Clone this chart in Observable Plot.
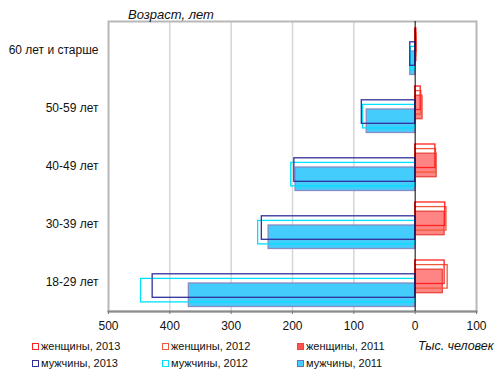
<!DOCTYPE html>
<html>
<head>
<meta charset="utf-8">
<script src="https://cdn.jsdelivr.net/npm/d3@7"></script>
<script src="https://cdn.jsdelivr.net/npm/@observablehq/plot@0.6"></script>
<style>
  html, body { margin: 0; padding: 0; background: #fff; }
  #wrap { position: relative; width: 500px; height: 378px; font-family: "Liberation Sans", Arial, sans-serif; color: #111; }
  .abs { position: absolute; white-space: nowrap; line-height: 1; }
  .mk { position: absolute; width: 5px; height: 5px; border: 1.5px solid; background: #fff; }
</style>
</head>
<body>
<div id="wrap"></div>
<script>
const ages = ["60 лет и старше", "50-59 лет", "40-49 лет", "30-39 лет", "18-29 лет"];
const women2013 = [2, 9, 33, 49, 48];
const women2012 = [2, 10, 34, 51, 53];
const women2011 = [2, 12, 35, 48, 45];
const men2013 = [8, 87, 197, 250, 428];
const men2012 = [7, 85, 202, 256, 447];
const men2011 = [8, 79, 195, 239, 369];
const xTicks = [-500, -400, -300, -200, -100, 0, 100];
const gridTicks = [-400, -300, -200, -100];
const legendLabels = [
  ["женщины, 2013", "женщины, 2012", "женщины, 2011"],
  ["мужчины, 2013", "мужчины, 2012", "мужчины, 2011"]
];

const rows = (vals, sign) => ages.map((a, i) => ({age: a, v: sign * vals[i]}));

// band height 58px; 6 overlapping series stepping 4.6px, each ~23.5px tall
const BAND = 58, H = 23.5;
const ins = k => ({insetTop: 7 + 4.6 * k, insetBottom: BAND - 7 - 4.6 * k - H});

const series = [
  {data: women2011, sign: 1, k: 2, fill: "#ff8584", stroke: "#e8483c"},
  {data: women2012, sign: 1, k: 1, fill: "none", stroke: "#f0583a"},
  {data: women2013, sign: 1, k: 0, fill: "none", stroke: "#ff2020"},
  {data: men2011, sign: -1, k: 5, fill: "#44ccfc", stroke: "#8a8cc4"},
  {data: men2012, sign: -1, k: 4, fill: "none", stroke: "#00e0ff"},
  {data: men2013, sign: -1, k: 3, fill: "none", stroke: "#30309c"}
];

const chart = Plot.plot({
  width: 500,
  height: 335,
  marginLeft: 108,
  marginRight: 24,
  marginTop: 21,
  marginBottom: 24,
  style: {fontFamily: "'Liberation Sans', Arial, sans-serif", fontSize: "12px", color: "#111", background: "#fff"},
  x: {domain: [-500, 100], label: null},
  y: {domain: ages, padding: 0, label: null},
  marks: [
    Plot.ruleX(gridTicks, {stroke: "#d6d6d6", strokeWidth: 1.5}),
    ...series.map(s => Plot.barX(rows(s.data, s.sign), {
      x: "v", y: "age", fill: s.fill, stroke: s.stroke, strokeWidth: 1.3, ...ins(s.k)
    })),
    Plot.frame({stroke: "#b8b8b8", strokeWidth: 2}),
    Plot.frame({anchor: "bottom", stroke: "#8c8c8c", strokeWidth: 2}),
    Plot.ruleX([0], {stroke: "#000", strokeWidth: 1}),
    Plot.axisX({ticks: xTicks, tickFormat: d => Math.abs(d), tickSize: 3, tickPadding: 7, stroke: "#777", fontSize: 12}),
    Plot.axisY({tickSize: 0, tickPadding: 10, fontSize: 12})
  ]
});

const wrap = document.getElementById("wrap");
chart.style.position = "absolute";
chart.style.left = "0px";
chart.style.top = "0px";
wrap.appendChild(chart);

function addText(txt, left, top, css) {
  const d = document.createElement("div");
  d.className = "abs";
  d.textContent = txt;
  d.style.left = left + "px";
  d.style.top = top + "px";
  Object.assign(d.style, css || {});
  wrap.appendChild(d);
}

addText("Возраст, лет", 128, 8, {fontStyle: "italic", fontSize: "13px"});
addText("Тыс. человек", 418, 340, {fontStyle: "italic", fontSize: "12.5px"});

const legendColors = [
  [["#fff", "#ff2020"], ["#fff", "#f0583a"], ["#ff5050", "#e8483c"]],
  [["#fff", "#30309c"], ["#fff", "#00e0ff"], ["#44ccfc", "#7070b8"]]
];
const colX = [32, 162, 297];
const rowY = [347, 364];
legendLabels.forEach((row, r) => row.forEach((lab, c) => {
  const m = document.createElement("div");
  m.className = "mk";
  m.style.left = colX[c] + "px";
  m.style.top = (rowY[r] - 4) + "px";
  m.style.background = legendColors[r][c][0];
  m.style.borderColor = legendColors[r][c][1];
  wrap.appendChild(m);
  addText(lab, colX[c] + 9, rowY[r] - 6, {fontSize: "11px"});
}));
</script>
</body>
</html>
